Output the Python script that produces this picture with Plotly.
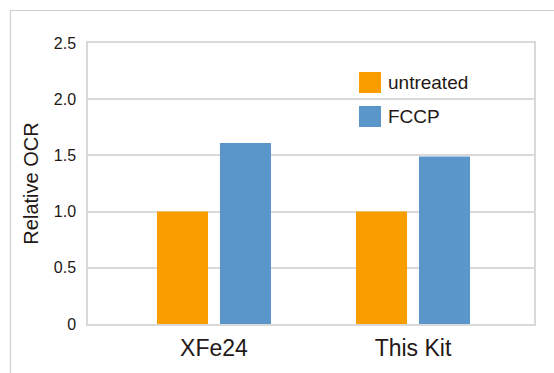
import plotly.graph_objects as go

categories = ["XFe24", "This Kit"]
series_names = ["untreated", "FCCP"]
untreated = [1.0, 1.0]
fccp = [1.61, 1.49]
y_tickvals = [0, 0.5, 1.0, 1.5, 2.0, 2.5]
y_ticktext = ["0", "0.5", "1.0", "1.5", "2.0", "2.5"]
colors = ["#F99D00", "#5B96CB"]

W, H = 554, 373
L, R, T, B = 88, 20, 43, 49
pw, ph = W - L - R, H - T - B

def px_x(x):
    return (x - L) / pw

def px_y(y):
    return (H - B - y) / ph

FONT = "Arial, Liberation Sans, sans-serif"
TXT = "#231815"
GRID = "#d9d9d9"

fig = go.Figure()
for name, vals, c in zip(series_names, [untreated, fccp], colors):
    fig.add_trace(go.Bar(x=categories, y=vals, name=name, marker_color=c,
                         marker_line_width=0, showlegend=False))

shapes = []
# outer frame
shapes.append(dict(type="rect", xref="paper", yref="paper",
                   x0=px_x(10.5), x1=px_x(600), y0=px_y(420), y1=px_y(10.5),
                   line=dict(color="#d0d0d0", width=1.2), fillcolor="rgba(0,0,0,0)", layer="below"))
annotations = []
leg_y = [82.5, 116.5]
for name, c, yc in zip(series_names, colors, leg_y):
    shapes.append(dict(type="rect", xref="paper", yref="paper",
                       x0=px_x(359), x1=px_x(381), y0=px_y(yc + 10.5), y1=px_y(yc - 10.5),
                       line=dict(width=0), fillcolor=c))
    annotations.append(dict(xref="paper", yref="paper", x=px_x(386), y=px_y(yc),
                            text=name, showarrow=False, xanchor="left", yanchor="middle",
                            font=dict(family=FONT, size=19, color=TXT)))

fig.update_layout(
    width=W, height=H, autosize=False,
    margin=dict(l=L, r=R, t=T, b=B, pad=0, autoexpand=False),
    paper_bgcolor="white", plot_bgcolor="white",
    barmode="group", bargap=0.367, bargroupgap=0.19,
    shapes=shapes, annotations=annotations,
    showlegend=False,
    font=dict(family=FONT, color=TXT),
)
fig.update_xaxes(range=[-0.633, 1.608], showgrid=False, showline=True, mirror=True,
                 linecolor=GRID, linewidth=1.5, ticks="", ticklabelstandoff=3,
                 automargin=False,
                 tickfont=dict(family=FONT, size=23, color=TXT), fixedrange=True)
fig.update_yaxes(range=[0, 2.5], tickvals=y_tickvals, ticktext=y_ticktext,
                 showgrid=True, gridcolor=GRID, gridwidth=1.5, showline=True, mirror=True,
                 linecolor=GRID, linewidth=1.5, ticks="", ticklabelstandoff=7,
                 zeroline=False, automargin=False, fixedrange=True,
                 tickfont=dict(family=FONT, size=16, color=TXT),
                 title=dict(text="Relative OCR", font=dict(family=FONT, size=20, color=TXT), standoff=10))

fig.write_html("out.html", config={"displayModeBar": False},
               post_script="document.body.style.margin='0';document.body.style.overflow='hidden';")
